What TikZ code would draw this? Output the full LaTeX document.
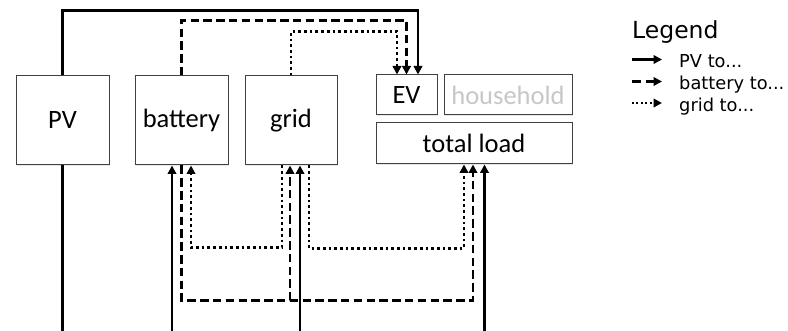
\documentclass[tikz,border=0pt]{standalone}
\usepackage{fontspec}
\setmainfont{Carlito}
\newfontfamily\legfont{DejaVu Sans}
\usetikzlibrary{arrows.meta,shadows}
\begin{document}
\begin{tikzpicture}[x=1pt,y=-1pt,
  box/.style={draw=black!75, line width=1pt, fill=white, inner sep=0pt,
    drop shadow={shadow xshift=1.2pt, shadow yshift=-1.2pt, fill=black!18},
    font=\fontsize{26.5}{30}\selectfont},
  flow/.style={line width=2.9pt, -{Triangle[width=8.5pt,length=8.5pt]}},
  plain/.style={line width=2.9pt},
  pvflow/.style={flow},
  batflow/.style={flow, dash pattern=on 8.5pt off 4.3pt},
  gridflow/.style={flow, dash pattern=on 2.7pt off 3pt},
  legtext/.style={font=\legfont\fontsize{17.8}{20}\selectfont, anchor=base west, inner sep=0pt},
]
\useasboundingbox (0,0) rectangle (788,331);

% boxes
\node[box, minimum width=93pt, minimum height=89pt] (pv) at (62.5,120.5) {PV};
\node[box, minimum width=93pt, minimum height=89pt] (battery) at (181.5,120.5) {battery};
\node[box, minimum width=92pt, minimum height=89pt] (grid) at (291,120.5) {grid};
\node[box, minimum width=61pt, minimum height=40pt] (ev) at (406.5,95) {EV};
\node[box, minimum width=128pt, minimum height=40pt, text=black!22] (household) at (508,95) {household};
\node[box, minimum width=196pt, minimum height=41pt] (load) at (474,143.5) {total load};

% anchor coordinates
\coordinate (bot) at (0,332);
\coordinate (evA) at ([xshift=-9.5pt]ev.north);
\coordinate (evC) at ([xshift=11.5pt]ev.north);
\coordinate (batA) at ([xshift=-9.5pt]battery.south);
\coordinate (batC) at ([xshift=9.5pt]battery.south);
\coordinate (gridA) at ([xshift=-9pt]grid.south);
\coordinate (gridB) at ([xshift=-1pt]grid.south);
\coordinate (gridC) at ([xshift=9pt]grid.south);
\coordinate (gridD) at ([xshift=18pt]grid.south);
\coordinate (loadA) at ([xshift=-10pt]load.south);
\coordinate (loadB) at ([xshift=-1pt]load.south);
\coordinate (loadC) at ([xshift=10.5pt]load.south);

% top connectors to EV
\draw[pvflow] (pv.north) -- ++(0,-65) -| (evC);
\draw[batflow] (battery.north) -- ++(0,-55) -| (ev.north);
\draw[gridflow] (grid.north) -- ++(0,-44) -| (evA);

% PV from below
\draw[pvflow] (pv.south) -- (pv.south |- bot) -| (loadC);
\draw[pvflow] (batA |- bot) -- (batA);
\draw[pvflow] (gridC |- bot) -- (gridC);

% battery to grid / load
\draw[batflow] (battery.south) -- ++(0,135) -| (gridB);
\draw[batflow] (battery.south) -- ++(0,135) -| (loadB);

% grid to battery / load
\draw[gridflow] (gridA) -- ++(0,82) -| (batC);
\draw[gridflow] (gridD) -- ++(0,83) -| (loadA);

% legend
\node[font=\legfont\fontsize{23.5}{26}\selectfont, anchor=base west, inner sep=0pt] (legtitle) at (632,39) {Legend};
\node[legtext] (leg1) at (679,68) {PV to...};
\node[legtext] (leg2) at (679,90) {battery to...};
\node[legtext] (leg3) at (679,111.5) {grid to...};
\coordinate (l1a) at (632,59.5);
\coordinate (l2a) at (632,81.5);
\coordinate (l3a) at (632,103);
\draw[pvflow, line width=2.2pt] (l1a) -- (l1a -| 662,0);
\draw[batflow, line width=2.2pt, dash pattern=on 9pt off 5pt] (l2a) -- (l2a -| 662,0);
\draw[gridflow, line width=2.2pt, dash pattern=on 2pt off 2.4pt] (l3a) -- (l3a -| 662,0);
\end{tikzpicture}
\end{document}
